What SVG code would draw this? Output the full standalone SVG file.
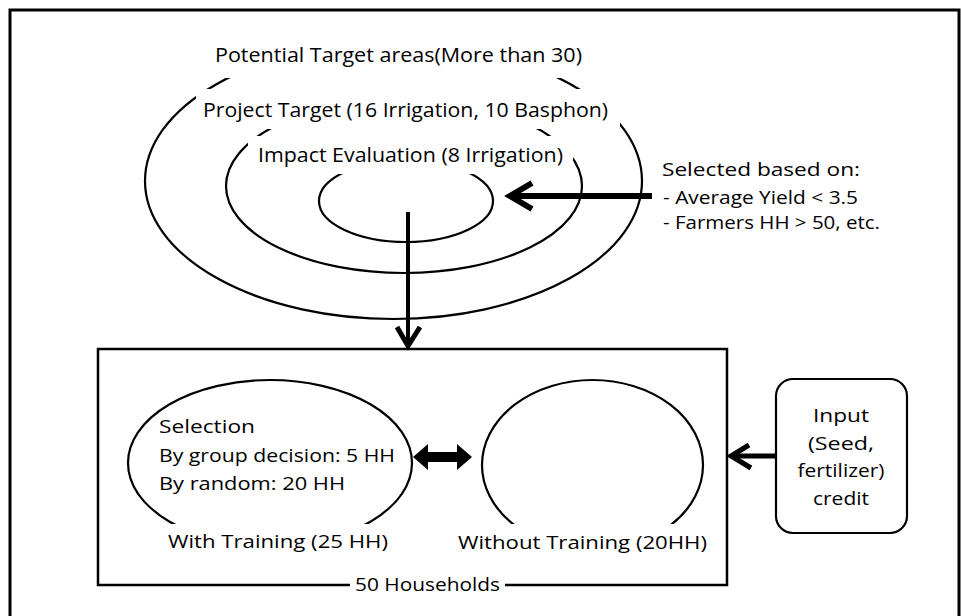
<svg xmlns="http://www.w3.org/2000/svg" width="961" height="616" viewBox="0 0 961 616">
<style>
.ln{fill:none;stroke:#000;stroke-width:2.2}
.bg{fill:#fff;stroke:none}
.t{font-family:"Open Sans","Liberation Sans",sans-serif;font-size:19px;fill:#000}
.tb{font-family:"Open Sans","Liberation Sans",sans-serif;font-size:20px;fill:#000}
.c{text-anchor:middle}
.arr{fill:none;stroke:#000;stroke-linecap:butt}
</style>
<rect x="10" y="10" width="949" height="620" fill="#fff" stroke="#000" stroke-width="3"/>
<g id="potential-target">
<ellipse class="ln" cx="393.5" cy="181" rx="248.5" ry="138"/>
</g>
<g id="project-target">
<ellipse class="ln" cx="404" cy="186" rx="178" ry="87"/>
</g>
<g id="impact-evaluation">
<ellipse class="ln" cx="406" cy="201" rx="87" ry="41"/>
</g>
<g id="labels-top">
<rect class="bg" x="212" y="34" width="373" height="44"/>
<text class="tb" x="215" y="62" textLength="367" lengthAdjust="spacingAndGlyphs">Potential Target areas(More than 30)</text>
<rect class="bg" x="196" y="89" width="424" height="40"/>
<text class="tb" x="203" y="117" textLength="405" lengthAdjust="spacingAndGlyphs">Project Target (16 Irrigation, 10 Basphon)</text>
<rect class="bg" x="248" y="136" width="325" height="38"/>
<text class="tb" x="258" y="162" textLength="305" lengthAdjust="spacingAndGlyphs">Impact Evaluation (8 Irrigation)</text>
</g>
<g id="criteria">
<text class="t" x="662" y="176" textLength="198" lengthAdjust="spacingAndGlyphs">Selected based on:</text>
<text class="t" x="663" y="204" textLength="195" lengthAdjust="spacingAndGlyphs">- Average Yield &lt; 3.5</text>
<text class="t" x="663" y="229" textLength="217" lengthAdjust="spacingAndGlyphs">- Farmers HH &gt; 50, etc.</text>
</g>
<g id="households">
<rect x="98" y="349" width="629" height="236" fill="none" stroke="#000" stroke-width="2.5"/>
<rect class="bg" x="350" y="574" width="155" height="22"/>
<text class="t" x="355" y="591" textLength="145" lengthAdjust="spacingAndGlyphs">50 Households</text>
</g>
<g id="with-training">
<ellipse class="ln" cx="270" cy="463" rx="142" ry="83"/>
<rect class="bg" x="150" y="524" width="240" height="30"/>
<text class="t" x="159" y="433" textLength="96" lengthAdjust="spacingAndGlyphs">Selection</text>
<text class="t" x="159" y="462" textLength="236" lengthAdjust="spacingAndGlyphs">By group decision: 5 HH</text>
<text class="t" x="159" y="490" textLength="186" lengthAdjust="spacingAndGlyphs">By random: 20 HH</text>
<text class="t" x="168" y="548" textLength="220" lengthAdjust="spacingAndGlyphs">With Training (25 HH)</text>
</g>
<g id="without-training">
<ellipse class="ln" cx="592.5" cy="465" rx="110.5" ry="85"/>
<rect class="bg" x="490" y="524" width="205" height="30"/>
<text class="t" x="458" y="549" textLength="249" lengthAdjust="spacingAndGlyphs">Without Training (20HH)</text>
</g>
<g id="input-credit">
<rect x="776" y="379" width="131" height="154" rx="17" ry="17" fill="#fff" stroke="#000" stroke-width="2.2"/>
<text class="t c" x="841" y="422" textLength="56" lengthAdjust="spacingAndGlyphs">Input</text>
<text class="t c" x="841" y="450" textLength="66" lengthAdjust="spacingAndGlyphs">(Seed,</text>
<text class="t c" x="841" y="477" textLength="87" lengthAdjust="spacingAndGlyphs">fertilizer)</text>
<text class="t c" x="841" y="505" textLength="56" lengthAdjust="spacingAndGlyphs">credit</text>
</g>
<g id="connectors">
<line class="arr" x1="408" y1="212" x2="408" y2="345" stroke-width="4"/>
<polyline class="arr" points="397,327 408,346 420,327" stroke-width="5" stroke-linejoin="miter"/>
<line class="arr" x1="652" y1="196" x2="512" y2="196" stroke-width="6"/>
<polyline class="arr" points="532,183 510,196 532,209" stroke-width="6" stroke-linejoin="miter"/>
<line class="arr" x1="776" y1="456" x2="733" y2="456" stroke-width="5"/>
<polyline class="arr" points="749,445 731,456 751,468" stroke-width="5" stroke-linejoin="miter"/>
<polygon points="413,457 428,444 428,452 457,452 457,444 472,457 457,470 457,462 428,462 428,470" fill="#000"/>
</g>
</svg>
